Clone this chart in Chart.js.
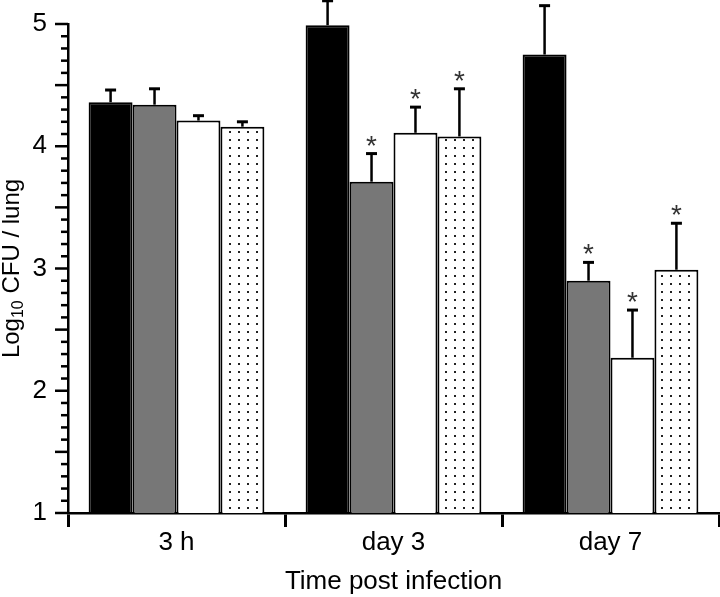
<!DOCTYPE html>
<html><head><meta charset="utf-8">
<script src="https://cdn.jsdelivr.net/npm/chart.js@4"></script>
<style>html,body{margin:0;padding:0;background:#fff}#wrap{width:720px;height:597px}</style>
</head><body><div id="wrap"><canvas id="c" width="720" height="597"></canvas></div>
<script>
// ---- data ----
const categories = ['3 h', 'day 3', 'day 7'];
const seriesNames = ['Group 1', 'Group 2', 'Group 3', 'Group 4'];
const meanBlack  = [4.36, 4.99, 4.75];
const meanGray   = [4.34, 3.71, 2.90];
const meanWhite  = [4.21, 4.11, 2.27];
const meanDotted = [4.16, 4.08, 2.99];
const sdBlack  = [0.10, 0.20, 0.40];
const sdGray   = [0.13, 0.23, 0.15];
const sdWhite  = [0.04, 0.21, 0.39];
const sdDotted = [0.04, 0.39, 0.38];
const sigBlack  = [false, false, false];
const sigGray   = [false, true, true];
const sigWhite  = [false, true, true];
const sigDotted = [false, true, true];
const yTickValues = [1, 2, 3, 4, 5];
const yTitleMain = 'Log';
const yTitleSub = '10';
const yTitleRest = ' CFU / lung';
const xTitle = 'Time post infection';

const FONT = "'Liberation Sans', Arial, Helvetica, sans-serif";

const canvas = document.getElementById('c');
const ctx = canvas.getContext('2d');

function dotPattern() {
  const p = document.createElement('canvas');
  p.width = 9; p.height = 8;
  const g = p.getContext('2d');
  g.fillStyle = '#fff'; g.fillRect(0, 0, 9, 8);
  g.fillStyle = '#222'; g.fillRect(4, 3, 2, 2);
  return ctx.createPattern(p, 'repeat');
}

const means = [meanBlack, meanGray, meanWhite, meanDotted];
const sds = [sdBlack, sdGray, sdWhite, sdDotted];
const sigs = [sigBlack, sigGray, sigWhite, sigDotted];
const fills = ['#000000', '#777777', '#ffffff', dotPattern()];

const datasets = means.map((m, i) => ({
  label: seriesNames[i],
  data: m,
  backgroundColor: fills[i],
  borderColor: '#000',
  borderWidth: 2,
  borderSkipped: 'bottom',
  categoryPercentage: 0.81,
  barPercentage: 1.0
}));

const extras = {
  id: 'extras',
  afterDatasetsDraw(chart) {
    const c = chart.ctx;
    const y = chart.scales.y;
    c.save();
    c.strokeStyle = '#000';
    datasets.forEach((ds, i) => {
      const meta = chart.getDatasetMeta(i);
      meta.data.forEach((el, j) => {
        const x = el.x;
        const top = y.getPixelForValue(means[i][j]);
        const et = y.getPixelForValue(means[i][j] + sds[i][j]);
        c.lineWidth = 2.5;
        c.beginPath(); c.moveTo(x, top); c.lineTo(x, et); c.stroke();
        c.lineWidth = 3;
        c.beginPath(); c.moveTo(x - 5.5, et); c.lineTo(x + 5.5, et); c.stroke();
        if (sigs[i][j]) {
          c.font = '28px ' + FONT;
          c.fillStyle = '#333';
          c.textAlign = 'center';
          c.textBaseline = 'alphabetic';
          const mt = c.measureText('*');
          const desc = mt.actualBoundingBoxDescent;
          c.fillText('*', x, et - 8 - desc);
        }
      });
    });
    c.restore();
  },
  afterDraw(chart) {
    const c = chart.ctx;
    const y = chart.scales.y;
    c.save();
    c.strokeStyle = '#000';
    c.lineWidth = 2.5;
    for (let i = 10; i <= 50; i++) {
      const py = y.getPixelForValue(i / 10);
      const len = (i % 5 === 0) ? 13 : 7;
      c.beginPath(); c.moveTo(y.right - len, py); c.lineTo(y.right, py); c.stroke();
    }
    // y title with subscript
    const big = '24px ' + FONT, small = '16px ' + FONT;
    c.font = big; const w1 = c.measureText(yTitleMain).width;
    const w3 = c.measureText(yTitleRest).width;
    c.font = small; const w2 = c.measureText(yTitleSub).width;
    const total = w1 + w2 + w3;
    const cy = (y.top + y.bottom) / 2;
    c.translate(19, cy);
    c.rotate(-Math.PI / 2);
    c.fillStyle = '#000';
    c.textBaseline = 'alphabetic';
    c.textAlign = 'left';
    let sx = -total / 2;
    c.font = big; c.fillText(yTitleMain, sx, 0); sx += w1;
    c.font = small; c.fillText(yTitleSub, sx, 4); sx += w2;
    c.font = big; c.fillText(yTitleRest, sx, 0);
    c.restore();
  }
};

new Chart(ctx, {
  type: 'bar',
  data: { labels: categories, datasets },
  options: {
    responsive: false,
    animation: false,
    devicePixelRatio: 1,
    layout: { padding: { top: 24, right: 1, left: 0, bottom: 0 } },
    plugins: { legend: { display: false }, tooltip: { enabled: false } },
    scales: {
      x: {
        grid: { display: true, drawOnChartArea: false, drawTicks: true, tickLength: 14, tickWidth: 3, tickColor: '#000', offset: true },
        border: { display: true, color: '#000', width: 2.5 },
        ticks: { font: { family: FONT, size: 26 }, color: '#000', padding: 0 },
        title: { display: true, text: xTitle, font: { family: FONT, size: 26 }, color: '#000', padding: { top: 4, bottom: 0 } },
        afterFit(s) { s.height = 84; }
      },
      y: {
        min: 1, max: 5,
        afterBuildTicks(s) { s.ticks = yTickValues.map(v => ({ value: v })); },
        ticks: { font: { family: FONT, size: 26 }, color: '#000', padding: 8 },
        grid: { display: true, drawOnChartArea: false, tickLength: 13, tickColor: 'rgba(0,0,0,0)' },
        border: { display: true, color: '#000', width: 2.5 },
        afterFit(s) { s.width = 68; }
      }
    }
  },
  plugins: [extras]
});
</script>
</body></html>
